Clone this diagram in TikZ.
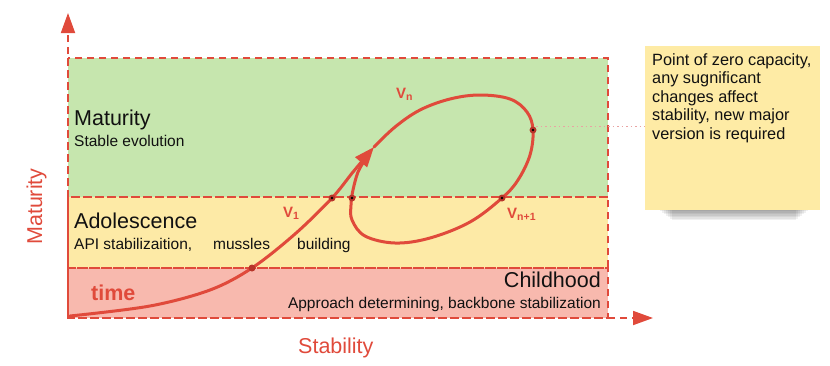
\documentclass[tikz,border=0pt]{standalone}
\usepackage{fontspec}
\setmainfont{Liberation Sans}
\usetikzlibrary{arrows.meta}
\definecolor{lred}{HTML}{E04A3B}
\definecolor{dred}{HTML}{B8352A}
\definecolor{bandgreen}{HTML}{C6E6AE}
\definecolor{bandyellow}{HTML}{FDEAA6}
\definecolor{bandpink}{HTML}{F8B9AE}
\definecolor{noteyellow}{HTML}{FEEBA5}
\definecolor{txt}{HTML}{111111}
\definecolor{dotline}{HTML}{E9A3A3}
\tikzset{
  band/.style={draw=lred, line width=1.8pt, dash pattern=on 7pt off 5pt},
  axisline/.style={draw=lred, line width=1.8pt, dash pattern=on 7pt off 5pt, -{Triangle[length=20pt,width=14pt]}},
  curve/.style={draw=lred, line width=3pt, line cap=round, line join=round},
  vdot/.style={circle, fill=dred, inner sep=0pt, minimum size=7pt},
  title/.style={font=\fontsize{21.5}{24}\selectfont, text=txt, inner sep=0pt},
  sub/.style={font=\fontsize{15.5}{18}\selectfont, text=txt, inner sep=0pt},
  axlabel/.style={font=\fontsize{21.5}{24}\selectfont, text=lred, inner sep=0pt},
  vlabel/.style={font=\fontsize{15}{17}\selectfont\bfseries, text=lred, inner sep=0pt},
}
\begin{document}
\begin{tikzpicture}[x=1pt,y=-1pt]
\useasboundingbox (0,0) rectangle (830,365);
% bands
\fill[bandgreen] (68,58) rectangle (608,197);
\fill[bandyellow] (68,197) rectangle (608,268);
\fill[bandpink] (68,268) rectangle (608,318);
\draw[band] (68,58) rectangle (608,197);
\draw[band] (68,197) rectangle (608,268);
\draw[band] (68,268) rectangle (608,318);
% axes
\coordinate (origin) at (68,318);
\coordinate (ytip) at (68,13);
\coordinate (xtip) at (653,318);
\draw[axisline] (origin) -- (ytip);
\draw[axisline] (origin) -- (xtip);
% note shadow
\foreach \i in {0,...,8} {
  \fill[black, opacity=0.06] (656+2*\i,200) rectangle (812-2*\i,208+1.5*\i);
}
% note
\node[fill=noteyellow, minimum width=175pt, minimum height=164pt, inner sep=0pt, anchor=north west] (note) at (645,46) {};
\node[anchor=north west, inner sep=0pt, align=left, text=txt, font=\fontsize{16.3}{18.4}\selectfont] (notetext) at (652,53.5)
 {Point of zero capacity,\\any sugnificant\\changes affect\\stability, new major\\version is required};
% dotted leader
\coordinate (zc) at (533,130);
\draw[dotline, line width=1.2pt, dash pattern=on 1.5pt off 3pt] (536,126.5) -- (note.west |- 0,126.5);
% band texts
\node[title, anchor=base west] (mat) at (74,125) {Maturity};
\node[sub, anchor=base west] (matsub) at (74,146) {Stable evolution};
\node[title, anchor=base west] (ado) at (74,228) {Adolescence};
\node[sub, anchor=base west] (adosub1) at (74,249) {API stabilizaition,};
\node[sub, anchor=base west] (adosub2) at (213,249) {mussles};
\node[sub, anchor=base west] (adosub3) at (297,249) {building};
\node[title, anchor=base east] (chi) at (601,287) {Childhood};
\node[sub, anchor=base east] (chisub) at (601,308) {Approach determining, backbone stabilization};
% axis labels
\node[axlabel, font=\fontsize{21.5}{24}\selectfont\bfseries, anchor=base west] (time) at (91,300) {time};
\node[axlabel, anchor=base west] (stab) at (298,353) {Stability};
\node[axlabel, anchor=base west, rotate=90] (maty) at (42,245) {Maturity};
% curve
\draw[curve, -{Triangle[length=20pt,width=15pt]}] plot[smooth, tension=0.55] coordinates
  {(70,316) (150,306) (210,290) (252,268) (295,234) (332,198) (353,172) (374,147)};
\draw[curve] plot[smooth, tension=0.6] coordinates
  {(374,147) (395,127) (420,110) (450,99) (480,95) (510,99) (527,112) (533,130) (530,155) (518,180) (502,198) (470,222) (430,238) (395,243) (365,236) (352,220) (351,205) (353,190) (358,172) (365,160)};
% dots
\node[vdot] (p1) at (252,268) {};
\node[vdot] (p2) at (332,198) {};
\node[vdot] (p3) at (352,198) {};
\node[vdot] (p4) at (502,198) {};
\node[vdot] (p5) at (533,130) {};
\foreach \p in {p2,p3,p4,p5} { \fill[black] (\p) circle (1.3pt); }
% version labels
\node[vlabel, anchor=base west] (vn) at (396,98) {V\textsubscript{n}};
\node[vlabel, anchor=base west] (v1) at (283,217) {V\textsubscript{1}};
\node[vlabel, anchor=base west] (vn1) at (507,218) {V\textsubscript{n+1}};
\end{tikzpicture}
\end{document}
